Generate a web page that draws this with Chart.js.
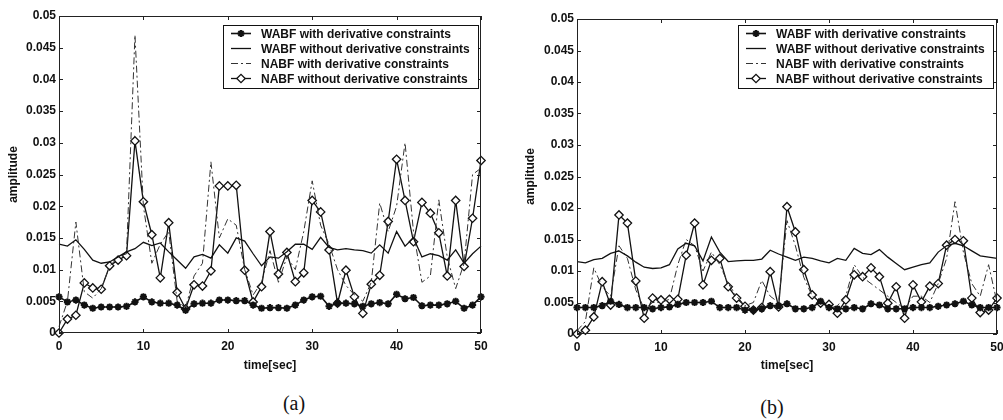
<!DOCTYPE html>
<html>
<head>
<meta charset="utf-8">
<script src="https://cdn.jsdelivr.net/npm/chart.js@4.4.0/dist/chart.umd.min.js"></script>
<style>
  body { margin: 0; background: #fff; width: 1003px; height: 420px; overflow: hidden; position: relative; }
  .pannello { position: absolute; top: 0; }
  .didascalia { position: absolute; font-family: "Liberation Serif", "Times New Roman", serif; font-size: 20px; color: #111; transform: translateX(-50%); }
</style>
</head>
<body>
<div class="pannello" style="left:0px"><canvas id="grafico_a" width="500" height="380"></canvas></div>
<div class="pannello" style="left:500px"><canvas id="grafico_b" width="503" height="380"></canvas></div>
<div class="didascalia" style="left:294px; top:392px">(a)</div>
<div class="didascalia" style="left:772px; top:396px">(b)</div>
<script>
// asse dei tempi (secondi)
var tempi = [0,1,2,3,4,5,6,7,8,9,10,11,12,13,14,15,16,17,18,19,20,21,22,23,24,25,26,27,28,29,30,
  31,32,33,34,35,36,37,38,39,40,41,42,43,44,45,46,47,48,49,50];

var etichette_serie = [
  'WABF with derivative constraints',
  'WABF without derivative constraints',
  'NABF with derivative constraints',
  'NABF without derivative constraints'
];

// grafico (a)
var wabf_con_a = [0.0057,0.0049,0.0052,0.0044,0.0039,0.0041,0.0041,0.0041,0.0042,0.0049,
  0.0057,0.0049,0.0047,0.0047,0.0044,0.0036,0.0046,0.0047,0.0047,0.0052,
  0.0052,0.0051,0.0051,0.0044,0.0039,0.0040,0.0040,0.0039,0.0044,0.0052,
  0.0057,0.0058,0.0042,0.0047,0.0047,0.0046,0.0042,0.0046,0.0048,0.0046,
  0.0061,0.0054,0.0056,0.0043,0.0044,0.0044,0.0046,0.0050,0.0039,0.0044,0.0057];
var wabf_senza_a = [0.0140,0.0137,0.0147,0.0132,0.0115,0.0110,0.0112,0.0120,0.0128,0.0133,
  0.0143,0.0138,0.0142,0.0128,0.0115,0.0102,0.0120,0.0124,0.0118,0.0139,
  0.0126,0.0150,0.0145,0.0125,0.0106,0.0120,0.0118,0.0128,0.0140,0.0140,
  0.0132,0.0151,0.0135,0.0131,0.0133,0.0131,0.0130,0.0126,0.0139,0.0126,
  0.0160,0.0137,0.0150,0.0120,0.0125,0.0122,0.0115,0.0131,0.0110,0.0125,0.0137];
var nabf_con_a = [0.0010,0.0050,0.0175,0.0065,0.0055,0.0070,0.0105,0.0120,0.0125,0.0470,
  0.0200,0.0110,0.0140,0.0160,0.0050,0.0040,0.0090,0.0110,0.0270,0.0150,
  0.0180,0.0170,0.0100,0.0060,0.0080,0.0130,0.0080,0.0120,0.0100,0.0160,
  0.0240,0.0170,0.0140,0.0100,0.0075,0.0060,0.0050,0.0080,0.0205,0.0160,
  0.0200,0.0300,0.0160,0.0080,0.0090,0.0210,0.0120,0.0070,0.0110,0.0250,0.0260];
var nabf_senza_a = [0,0.0022,0.0028,0.0079,0.0071,0.0069,0.0106,0.0115,0.0122,0.0303,
  0.0207,0.0155,0.0087,0.0174,0.0064,0.0038,0.0076,0.0074,0.0098,0.0232,
  0.0232,0.0233,0.0099,0.0049,0.0073,0.0160,0.0093,0.0127,0.0081,0.0095,
  0.0209,0.0191,0.0131,0.0047,0.0099,0.0057,0.0031,0.0077,0.0091,0.0176,
  0.0274,0.0209,0.0144,0.0206,0.0189,0.0158,0.0090,0.0209,0.0105,0.0181,0.0272];

// grafico (b)
var wabf_con_b = [0.0042,0.0042,0.0042,0.0045,0.0052,0.0047,0.0042,0.0042,0.0042,0.0040,
  0.0042,0.0043,0.0047,0.0050,0.0050,0.0050,0.0052,0.0042,0.0042,0.0042,
  0.0038,0.0038,0.0040,0.0045,0.0045,0.0048,0.0040,0.0040,0.0042,0.0052,
  0.0042,0.0040,0.0040,0.0042,0.0040,0.0048,0.0046,0.0040,0.0040,0.0040,
  0.0042,0.0042,0.0042,0.0044,0.0046,0.0048,0.0052,0.0046,0.0042,0.0042,0.0042];
var wabf_senza_b = [0.0115,0.0113,0.0118,0.0120,0.0128,0.0132,0.0124,0.0114,0.0106,0.0104,
  0.0105,0.0110,0.0135,0.0144,0.0140,0.0116,0.0154,0.0130,0.0115,0.0116,
  0.0117,0.0117,0.0119,0.0133,0.0127,0.0122,0.0117,0.0122,0.0120,0.0116,
  0.0113,0.0120,0.0117,0.0136,0.0128,0.0126,0.0134,0.0122,0.0112,0.0102,
  0.0106,0.0110,0.0113,0.0130,0.0140,0.0144,0.0140,0.0132,0.0124,0.0122,0.0120];
var nabf_con_b = [0.0005,0.0020,0.0105,0.0075,0.0060,0.0140,0.0120,0.0070,0.0040,0.0050,
  0.0050,0.0055,0.0110,0.0150,0.0140,0.0100,0.0130,0.0110,0.0080,0.0060,
  0.0045,0.0050,0.0085,0.0060,0.0050,0.0180,0.0140,0.0090,0.0060,0.0050,
  0.0040,0.0045,0.0060,0.0110,0.0090,0.0080,0.0070,0.0060,0.0050,0.0040,
  0.0060,0.0060,0.0050,0.0080,0.0120,0.0210,0.0130,0.0080,0.0060,0.0110,0.0050];
var nabf_senza_b = [0,0.0006,0.0027,0.0083,0.0046,0.0189,0.0176,0.0084,0.0025,0.0057,
  0.0054,0.0055,0.0055,0.0125,0.0176,0.0078,0.0117,0.0120,0.0075,0.0057,
  0.0044,0.0038,0.0042,0.0099,0.0043,0.0202,0.0162,0.0102,0.0062,0.0049,
  0.0047,0.0033,0.0054,0.0094,0.0091,0.0105,0.0091,0.0049,0.0075,0.0025,
  0.0078,0.0051,0.0076,0.0080,0.0141,0.0150,0.0148,0.0057,0.0034,0.0038,0.0057];

var font_base = '"Liberation Sans", Arial, sans-serif';
Chart.defaults.font.family = font_base;
Chart.defaults.font.size = 12;
Chart.defaults.font.weight = 'bold';
Chart.defaults.color = '#111';

// cornice del grafico con le tacche rivolte verso l'interno (stile matlab)
var plugin_cornice = {
  id: 'cornice',
  afterDatasetsDraw: function(chart) {
    var ctx = chart.ctx;
    var a = chart.chartArea;
    var sx = chart.scales.x;
    var sy = chart.scales.y;
    ctx.save();
    ctx.strokeStyle = '#222';
    ctx.lineWidth = 1;
    ctx.strokeRect(a.left + 0.5, a.top + 0.5, a.right - a.left - 1, a.bottom - a.top - 1);
    ctx.beginPath();
    sx.ticks.forEach(function(t) {
      var px = Math.round(sx.getPixelForValue(t.value)) + 0.5;
      ctx.moveTo(px, a.bottom); ctx.lineTo(px, a.bottom - 4);
      ctx.moveTo(px, a.top); ctx.lineTo(px, a.top + 4);
    });
    sy.ticks.forEach(function(t) {
      var py = Math.round(sy.getPixelForValue(t.value)) + 0.5;
      ctx.moveTo(a.left, py); ctx.lineTo(a.left + 4, py);
      ctx.moveTo(a.right, py); ctx.lineTo(a.right - 4, py);
    });
    ctx.stroke();
    ctx.restore();
  }
};

// legenda disegnata dentro l'area del grafico, in alto a destra
var plugin_legenda = {
  id: 'legenda_interna',
  afterDraw: function(chart, args, opzioni) {
    var ctx = chart.ctx;
    var a = chart.chartArea;
    ctx.save();
    ctx.font = 'bold 12px ' + font_base;
    var larghezza_testo = 0;
    chart.data.datasets.forEach(function(d) {
      larghezza_testo = Math.max(larghezza_testo, ctx.measureText(d.label).width);
    });
    var w = Math.round(38 + larghezza_testo + 8);
    var h = 63;
    var x0 = Math.round(a.right - opzioni.margine_destro - w);
    var y0 = Math.round(a.top + opzioni.margine_alto);
    ctx.fillStyle = '#fff';
    ctx.fillRect(x0, y0, w, h);
    ctx.strokeStyle = '#111';
    ctx.lineWidth = 1;
    ctx.strokeRect(x0 + 0.5, y0 + 0.5, w, h);
    chart.data.datasets.forEach(function(d, i) {
      var yy = y0 + 8.5 + i * 15;
      ctx.beginPath();
      ctx.setLineDash(d.borderDash || []);
      ctx.lineWidth = d.borderWidth;
      ctx.strokeStyle = d.borderColor;
      ctx.moveTo(x0 + 8, yy);
      ctx.lineTo(x0 + 28, yy);
      ctx.stroke();
      ctx.setLineDash([]);
      if (d.pointRadius > 0 && Chart.helpers && Chart.helpers.drawPoint) {
        ctx.fillStyle = d.pointBackgroundColor;
        ctx.strokeStyle = d.borderColor;
        ctx.lineWidth = d.pointBorderWidth;
        Chart.helpers.drawPoint(ctx, {
          pointStyle: d.pointStyle,
          radius: d.pointRadius,
          borderWidth: d.pointBorderWidth,
          rotation: 0
        }, x0 + 18, yy);
      }
      ctx.fillStyle = '#111';
      ctx.textAlign = 'left';
      ctx.textBaseline = 'middle';
      ctx.fillText(d.label, x0 + 38, yy + 1);
    });
    ctx.restore();
  }
};

function prepara_punti(valori) {
  var punti = [];
  for (var i = 0; i < tempi.length; i++) {
    punti.push({ x: tempi[i], y: valori[i] });
  }
  return punti;
}

function crea_dataset(valori) {
  return [
    {
      label: etichette_serie[0], data: prepara_punti(valori[0]),
      borderColor: '#111', borderWidth: 1.6,
      pointStyle: 'star', pointRadius: 3.6, pointBorderWidth: 2, pointBackgroundColor: '#111'
    },
    {
      label: etichette_serie[1], data: prepara_punti(valori[1]),
      borderColor: '#111', borderWidth: 1.3, pointRadius: 0
    },
    {
      label: etichette_serie[2], data: prepara_punti(valori[2]),
      borderColor: '#333', borderWidth: 1, borderDash: [7, 3, 2, 3], pointRadius: 0
    },
    {
      label: etichette_serie[3], data: prepara_punti(valori[3]),
      borderColor: '#111', borderWidth: 1.3,
      pointStyle: 'rectRot', pointRadius: 4.2, pointBorderWidth: 1.3, pointBackgroundColor: '#fff'
    }
  ];
}

function disegna_grafico(id_canvas, valori, area) {
  return new Chart(document.getElementById(id_canvas), {
    type: 'line',
    data: { datasets: crea_dataset(valori) },
    options: {
      responsive: false,
      animation: false,
      clip: false,
      layout: { padding: { top: area.alto, right: area.destra, left: 0, bottom: 0 } },
      plugins: {
        legend: { display: false },
        tooltip: { enabled: false },
        legenda_interna: { margine_destro: area.leg_destra, margine_alto: area.leg_alto }
      },
      scales: {
        x: {
          type: 'linear', min: 0, max: 50,
          ticks: { stepSize: 10, padding: 6, maxRotation: 0 },
          grid: { display: false, drawTicks: false },
          border: { display: false },
          title: { display: true, text: 'time[sec]', padding: { top: 0, bottom: 7 } },
          afterFit: function(s) {
            s.height = area.altezza_x;
            // l'etichetta "50" puo' uscire dal bordo come nell'originale
            s.paddingLeft = 0;
            s.paddingRight = 0;
          }
        },
        y: {
          min: 0, max: 0.05,
          ticks: {
            stepSize: 0.005, padding: 3,
            callback: function(v) { return String(+v.toFixed(3)); }
          },
          grid: { display: false, drawTicks: false },
          border: { display: false },
          title: { display: true, text: 'amplitude', padding: { top: area.pad_titolo_y, bottom: 0 } },
          afterFit: function(s) { s.width = area.sinistra; }
        }
      }
    },
    plugins: [plugin_cornice, plugin_legenda]
  });
}

disegna_grafico('grafico_a', [wabf_con_a, wabf_senza_a, nabf_con_a, nabf_senza_a],
  { alto: 16, destra: 19, sinistra: 59, altezza_x: 47, pad_titolo_y: 6, leg_destra: 3, leg_alto: 9 });
disegna_grafico('grafico_b', [wabf_con_b, wabf_senza_b, nabf_con_b, nabf_senza_b],
  { alto: 19, destra: 6, sinistra: 77, altezza_x: 46, pad_titolo_y: 23, leg_destra: 4, leg_alto: 6 });
</script>
</body>
</html>
